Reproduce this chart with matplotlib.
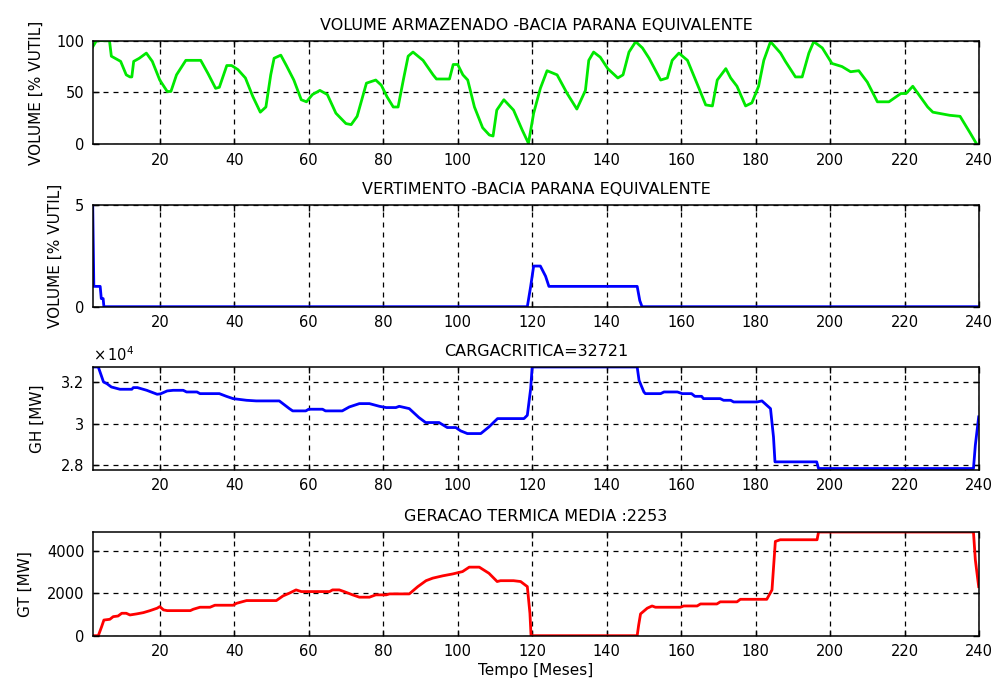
import matplotlib
matplotlib.use("Agg")
import matplotlib.pyplot as plt
from matplotlib.ticker import FuncFormatter

# ---------------------------------------------------------------------------
# Data (month, value)
# ---------------------------------------------------------------------------
vol_x = [2, 3, 6.5, 7, 9.5, 11, 12, 12.5, 13, 14.5, 16.4, 18, 20, 22, 23, 24.5, 27, 31, 33, 35,
         36, 38, 39.3, 41, 43, 45, 47, 48.5, 49.8, 50.7, 52.5, 54, 56, 58, 59.4, 61, 63, 65,
         67.3, 70, 71.4, 73, 75.5, 78, 79.5, 81, 82.7, 84, 85.4, 86.7, 88, 90.7, 93.4, 94.3,
         97.8, 98.8, 100, 101.4, 102.7, 104.5, 106.7, 108.5, 109.5, 110.5, 112.4, 115, 117.3,
         119, 120.4, 122.2, 124, 126.7, 129.4, 132, 134.3, 135.2, 136.5, 138.3, 140.3, 143,
         144.4, 146, 147.8, 149.6, 151.4, 154.5, 156.3, 157.6, 159.4, 161.7, 164.8, 166.6,
         168.4, 169.7, 172, 173.3, 175, 177.3, 179, 180.8, 182.2, 184, 186.7, 188, 190.7,
         192.5, 194.3, 195.6, 197.9, 200.5, 203.2, 205.5, 207.7, 210, 212.7, 215.8, 219,
         220.4, 222.2, 226.2, 227.6, 232.1, 234.9, 237.6, 239.4, 240]
vol_y = [94, 100, 100, 85, 80, 67, 65, 65, 80, 83, 88, 80, 62, 51, 51, 67, 81, 81, 68, 54,
         55, 76, 76, 72, 64, 46, 31, 36, 67, 83, 86, 76, 62, 43, 41, 48, 52, 48,
         30, 20, 19, 27, 59, 62, 57, 46, 36, 36, 62, 85, 89, 81, 67, 63,
         63, 77, 77, 67, 62, 36, 16, 9, 8, 33, 43, 33, 14,
         1, 30, 54, 71, 67, 49, 34, 52, 81, 89, 84, 73, 64,
         67, 89, 99, 93, 83, 62, 64, 81, 88, 81, 54, 38,
         37, 62, 73, 64, 56, 37, 40, 56, 81, 99, 88, 80, 65,
         65, 88, 99, 93, 78, 75, 70, 71, 60, 41, 41, 49,
         49, 56, 36, 31, 28, 27, 11, 0, 0]

vert_x = [2, 2.3, 4, 4.3, 4.8, 5, 118.7, 119.6, 120.4, 122.2, 123.6, 124.5, 148.2, 148.9, 149.5, 240]
vert_y = [5, 1, 1, 0.4, 0.4, 0, 0, 1, 2, 2, 1.5, 1, 1, 0.3, 0, 0]

carga_critica = 32721
gh_x = [2, 3.5, 4.9, 5.8, 7, 9.3, 12.5, 12.9, 14, 16.5, 19.3, 20.2, 22, 23.6, 26.3, 27.2, 30,
        30.8, 36, 37.9, 39.7, 43.3, 45.9, 52.1, 54.8, 55.7, 59.2, 60, 63.7, 64.5, 69, 70.9,
        73.6, 76.3, 79, 80.8, 83.4, 84.3, 87, 89.6, 91.4, 95, 97.2, 99.5, 100.8, 102.6,
        106.2, 108.4, 110.7, 117.8, 118.7, 119.6, 120, 148.2, 148.7, 150, 150.4, 154.5,
        155.4, 159, 160.3, 162.8, 163.7, 165.5, 166, 170.5, 171.4, 173.3, 174.1, 180.4,
        181.7, 184, 184.8, 185.2, 196.4, 196.9, 238.5, 239, 239.9]
gh_y = [32721, 32721, 32000, 31920, 31760, 31650, 31650, 31730, 31730, 31600, 31410, 31430,
        31570, 31600, 31600, 31520, 31520, 31440, 31440, 31310, 31200, 31120, 31090, 31090,
        30720, 30610, 30610, 30690, 30690, 30610, 30610, 30800, 30960, 30960, 30830, 30770,
        30770, 30830, 30720, 30290, 30050, 30050, 29810, 29810, 29650, 29520, 29520, 29840,
        30240, 30240, 30400, 31680, 32721, 32721, 32080, 31520, 31440, 31440, 31520, 31520,
        31440, 31440, 31310, 31310, 31200, 31200, 31120, 31120, 31040, 31040, 31090, 30720,
        29360, 28160, 28160, 27840, 27840, 28960, 30320]

gt_media = 2253
gt_x = [2, 3.5, 4.4, 5, 6.6, 7.5, 8.8, 9.8, 11, 12, 13.8, 15.6, 17.4, 19.3, 20, 21, 22, 28.2,
        29, 30.8, 33.5, 34.8, 39.7, 40.6, 43.3, 51.3, 53.1, 54.8, 56.6, 58, 65.6, 66.4, 68.2,
        69.5, 71.8, 73.6, 76.3, 78, 80.8, 81.7, 87, 89.3, 91.5, 93.3, 96, 98.7, 101.3, 103.1,
        105.8, 108.4, 110.6, 111.5, 115, 116.9, 118.7, 119.4, 119.7, 148.2, 148.6, 149.1,
        150.9, 152.2, 153.1, 159.8, 160.7, 164.3, 165.2, 169.6, 170.5, 175, 175.9, 183,
        184.4, 184.8, 185.3, 186.6, 196.5, 196.9, 238.5, 239, 239.9]
gt_y = [0, 0, 430, 740, 775, 900, 930, 1060, 1060, 980, 1030, 1090, 1185, 1300, 1375, 1220,
        1185, 1185, 1250, 1345, 1345, 1440, 1440, 1530, 1660, 1660, 1880, 2010, 2165, 2085,
        2085, 2165, 2165, 2085, 1930, 1820, 1820, 1930, 1930, 1975, 1975, 2320, 2600, 2720,
        2830, 2920, 3030, 3240, 3240, 2950, 2560, 2600, 2600, 2560, 2320, 1060, 0, 0, 505,
        1030, 1300, 1405, 1345, 1345, 1405, 1405, 1500, 1500, 1600, 1600, 1720, 1720, 2165,
        3190, 4455, 4535, 4535, 4900, 4900, 3590, 2320]

x_ticks = list(range(20, 241, 20))

# ---------------------------------------------------------------------------
# Figure
# ---------------------------------------------------------------------------
plt.rcParams["font.family"] = "DejaVu Sans"
plt.rcParams["font.size"] = 10

fig = plt.figure(figsize=(9.97, 6.82), dpi=100)

left, width = 0.093, 0.889
bottoms = [0.7884, 0.5503, 0.3109, 0.0679]
heights = [0.152, 0.149, 0.151, 0.152]
TITLE_FS = 11.5
LABEL_FS = 11


def style_axes(ax, yticks):
    ax.set_xlim(2, 240)
    ax.set_xticks(x_ticks)
    ax.set_yticks(yticks)
    ax.tick_params(direction="in", top=True, right=True, length=4, width=1,
                   labelsize=10.5, pad=6)
    ax.grid(True, color="k", linestyle=(0, (4, 4)), linewidth=0.9)
    for s in ax.spines.values():
        s.set_linewidth(1.1)


# 1 - stored volume
ax1 = fig.add_axes([left, bottoms[0], width, heights[0]])
ax1.plot(vol_x, vol_y, color="#00e800", linewidth=2)
ax1.set_ylim(0, 100)
style_axes(ax1, [0, 50, 100])
ax1.set_title("VOLUME ARMAZENADO -BACIA PARANA EQUIVALENTE", fontsize=TITLE_FS, pad=8)
ax1.set_ylabel("VOLUME [% VUTIL]", fontsize=LABEL_FS, labelpad=9)

# 2 - spill
ax2 = fig.add_axes([left, bottoms[1], width, heights[1]])
ax2.plot(vert_x, vert_y, color="#0000ff", linewidth=2)
ax2.set_ylim(0, 5)
style_axes(ax2, [0, 5])
ax2.set_title("VERTIMENTO -BACIA PARANA EQUIVALENTE", fontsize=TITLE_FS, pad=8)
ax2.set_ylabel("VOLUME [% VUTIL]", fontsize=LABEL_FS, labelpad=9)

# 3 - hydro generation
ax3 = fig.add_axes([left, bottoms[2], width, heights[2]])
ax3.plot(gh_x, gh_y, color="#0000ff", linewidth=2)
ax3.set_ylim(27770, carga_critica)
style_axes(ax3, [28000, 30000, 32000])
ax3.yaxis.set_major_formatter(FuncFormatter(lambda v, p: f"{v / 1e4:g}"))
ax3.text(0.0, 1.03, r"$\times\,10^4$", transform=ax3.transAxes, fontsize=10.5,
         ha="left", va="bottom")
ax3.set_title(f"CARGACRITICA={carga_critica}", fontsize=TITLE_FS, pad=8)
ax3.set_ylabel("GH [MW]", fontsize=LABEL_FS, labelpad=12)

# 4 - thermal generation
ax4 = fig.add_axes([left, bottoms[3], width, heights[3]])
ax4.plot(gt_x, gt_y, color="#ff0000", linewidth=2)
ax4.set_ylim(0, 4900)
style_axes(ax4, [0, 2000, 4000])
ax4.set_title(f"GERACAO TERMICA MEDIA :{gt_media}", fontsize=TITLE_FS, pad=8)
ax4.set_ylabel("GT [MW]", fontsize=LABEL_FS, labelpad=10)
ax4.set_xlabel("Tempo [Meses]", fontsize=LABEL_FS, labelpad=3)

fig.savefig("out.png", dpi=100)
